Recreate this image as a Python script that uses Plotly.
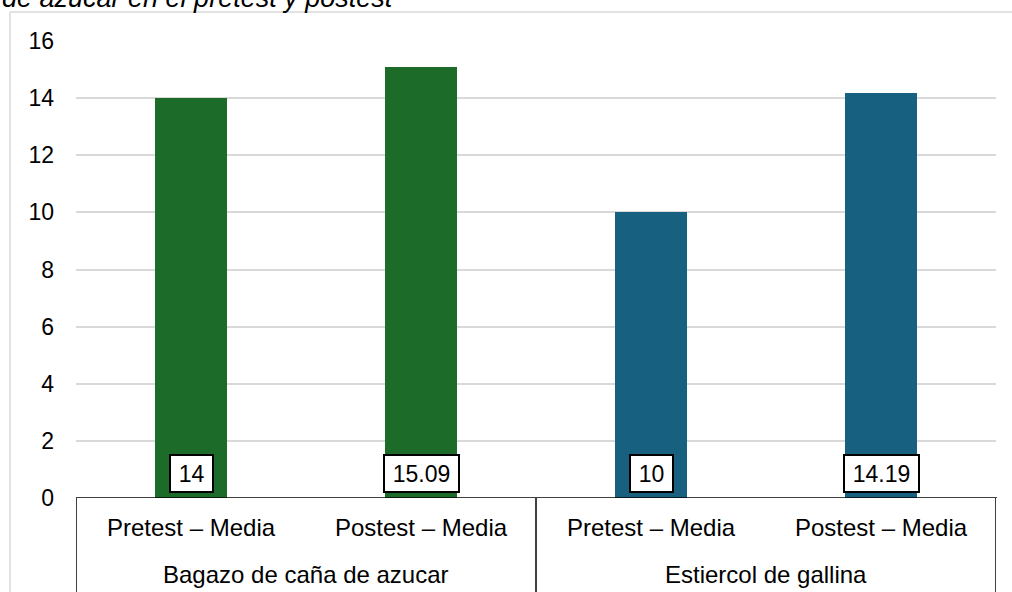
import plotly.graph_objects as go

# ---- data ----
groups = ["Bagazo de caña de azucar", "Estiercol de gallina"]
stages = ["Pretest – Media", "Postest – Media"]
bagazo_values = [14, 15.09]
estiercol_values = [10, 14.19]
value_labels = ["14", "15.09", "10", "14.19"]
y_ticks = [0, 2, 4, 6, 8, 10, 12, 14, 16]
title_text = "de azucar en el pretest y postest"

green = "#1d6b28"
blue = "#186080"
FONT = "Arial, Liberation Sans, sans-serif"
LBL = 23

fig = go.Figure()
all_vals = bagazo_values + estiercol_values
xpos = list(range(len(all_vals)))

fig.add_trace(go.Bar(x=xpos[:2], y=bagazo_values, marker=dict(color=green, line=dict(width=0)),
                     width=0.313, showlegend=False, hoverinfo="skip"))
fig.add_trace(go.Bar(x=xpos[2:], y=estiercol_values, marker=dict(color=blue, line=dict(width=0)),
                     width=0.313, showlegend=False, hoverinfo="skip"))


def box_width(s):
    return sum(0.278 * LBL if ch == "." else 0.556 * LBL for ch in s) + 11.5


annotations = []
# value boxes
for i, lab in enumerate(value_labels):
    annotations.append(dict(x=xpos[i], y=0, xref="x", yref="y", text=lab, showarrow=False,
                            yanchor="middle", yshift=25, font=dict(family=FONT, size=LBL, color="black"),
                            width=box_width(lab), height=31, align="center",
                            bgcolor="white", bordercolor="black", borderwidth=2, borderpad=2))
# stage labels
for i in xpos:
    annotations.append(dict(x=i, y=0, xref="x", yref="paper", text=stages[i % 2], showarrow=False,
                            yanchor="middle", yshift=-29, font=dict(family=FONT, size=24, color="black")))
# group labels
for g, name in enumerate(groups):
    annotations.append(dict(x=2 * g + 0.5, y=0, xref="x", yref="paper", text=name, showarrow=False,
                            yanchor="middle", yshift=-76, font=dict(family=FONT, size=24, color="black")))
# title (cut off at top)
annotations.append(dict(x=-76 / 920, y=1, xref="paper", yref="paper", text="<i>" + title_text + "</i>",
                        showarrow=False, xanchor="left", yanchor="middle", yshift=43,
                        font=dict(family=FONT, size=27, color="black")))

shapes = []
# axis line
shapes.append(dict(type="line", xref="paper", yref="y", x0=0, x1=1.001, y0=0, y1=0,
                   line=dict(color="black", width=1.5)))
# dividers
for xd in [-0.5, 1.5, 3.5]:
    shapes.append(dict(type="line", xref="x", yref="paper", x0=xd, x1=xd, y0=0, y1=-0.3,
                       line=dict(color="black", width=1.5)))
# chart-area frame (left and top)
shapes.append(dict(type="line", xref="paper", yref="paper", x0=-66 / 920, x1=-66 / 920,
                   y0=1 + 29 / 457, y1=-0.3, line=dict(color="#d9d9d9", width=1.5)))
shapes.append(dict(type="line", xref="paper", yref="paper", x0=-66 / 920, x1=1.1,
                   y0=1 + 29 / 457, y1=1 + 29 / 457, line=dict(color="#d9d9d9", width=1.5)))

fig.update_layout(
    width=1012, height=592,
    margin=dict(l=76, r=16, t=41, b=94),
    paper_bgcolor="white", plot_bgcolor="white",
    bargap=0,
    xaxis=dict(range=[-0.5, 3.5], showticklabels=False, showgrid=False, zeroline=False,
               showline=False, ticks=""),
    yaxis=dict(range=[0, 16], tickvals=y_ticks, showgrid=True, gridcolor="#d9d9d9", gridwidth=1.5,
               zeroline=False, showline=False, ticks="", ticklabelstandoff=21,
               tickfont=dict(family=FONT, size=23, color="black")),
    annotations=annotations, shapes=shapes,
    font=dict(family=FONT),
)

fig.write_html("out.html", config={"displayModeBar": False},
               post_script="document.body.style.margin='0';document.body.style.overflow='hidden';")
